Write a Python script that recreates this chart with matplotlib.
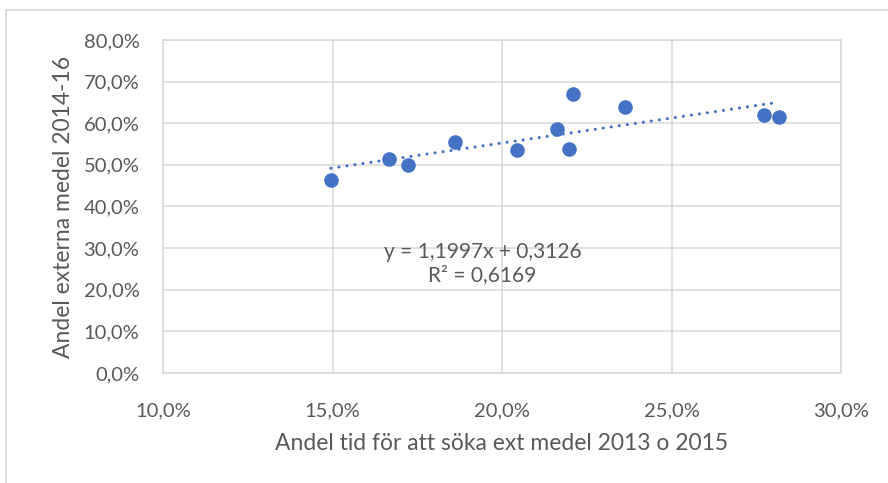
import numpy as np
import matplotlib.pyplot as plt
from matplotlib.ticker import FuncFormatter
from matplotlib.lines import Line2D

''' Data '''
tid_andel = [14.95, 16.66, 17.23, 18.62, 20.44, 21.61, 21.99, 22.10, 23.62, 27.74, 28.16]
extern_andel = [46.4, 51.4, 50.0, 55.4, 53.6, 58.7, 53.8, 67.1, 63.9, 62.1, 61.6]
slope = 1.1997
intercept = 0.3126
r2 = 0.6169
x_ticks = [10, 15, 20, 25, 30]
y_ticks = [0, 10, 20, 30, 40, 50, 60, 70, 80]

''' Plot '''
plt.rcParams["font.family"] = ["Lato", "DejaVu Sans"]
blue = '#4472C4'
grey_txt = '#595959'
grid_c = '#D9D9D9'

fig = plt.figure(figsize=(8.88, 4.83), dpi=100)
ax1 = fig.add_axes([163/888, 1 - 373/483, (841 - 163)/888, (373 - 40)/483])

# chart border (only top/left visible in the crop)
fig.add_artist(Line2D([6/888, 1], [1 - 10/483, 1 - 10/483], color=grid_c, lw=1.3))
fig.add_artist(Line2D([6/888, 6/888], [0, 1 - 10/483], color=grid_c, lw=1.3))

ax1.set_xlim(10, 30)
ax1.set_ylim(0, 80)
ax1.set_xticks(x_ticks)
ax1.set_yticks(y_ticks)
pct = FuncFormatter(lambda v, p: ('%.1f%%' % v).replace('.', ','))
ax1.xaxis.set_major_formatter(pct)
ax1.yaxis.set_major_formatter(pct)
ax1.grid(True, color=grid_c, linewidth=1.1)
ax1.set_axisbelow(True)
for s in ax1.spines.values():
    s.set_color(grid_c)
    s.set_linewidth(1.1)
ax1.tick_params(length=0, labelsize=14.5, labelcolor=grey_txt)
ax1.tick_params(axis='x', pad=21)
ax1.tick_params(axis='y', pad=17)

ax1.set_xlabel('Andel tid för att söka ext medel 2013 o 2015', fontsize=16.5, color=grey_txt, labelpad=10)
ax1.set_ylabel('Andel externa medel 2014-16', fontsize=16.5, color=grey_txt, labelpad=7)

# trendline
xs = np.array([min(tid_andel), max(tid_andel)])
ys = (slope * xs / 100 + intercept) * 100
ax1.plot(xs, ys, color=blue, linewidth=2.2, linestyle=(0, (0.05, 2.6)),
         dash_capstyle='round', zorder=2)

ax1.plot(tid_andel, extern_andel, 'o', color=blue, markersize=10.5,
         markeredgewidth=0, zorder=3)

eq = ('y = %.4fx + %.4f' % (slope, intercept)).replace('.', ',')
r2_txt = ('R² = %.4f' % r2).replace('.', ',')
ax1.text(19.42, 26.3, eq + '\n' + r2_txt, ha='center', va='center',
         fontsize=15, color=grey_txt, linespacing=1.25)

plt.savefig('out.png', dpi=100)
